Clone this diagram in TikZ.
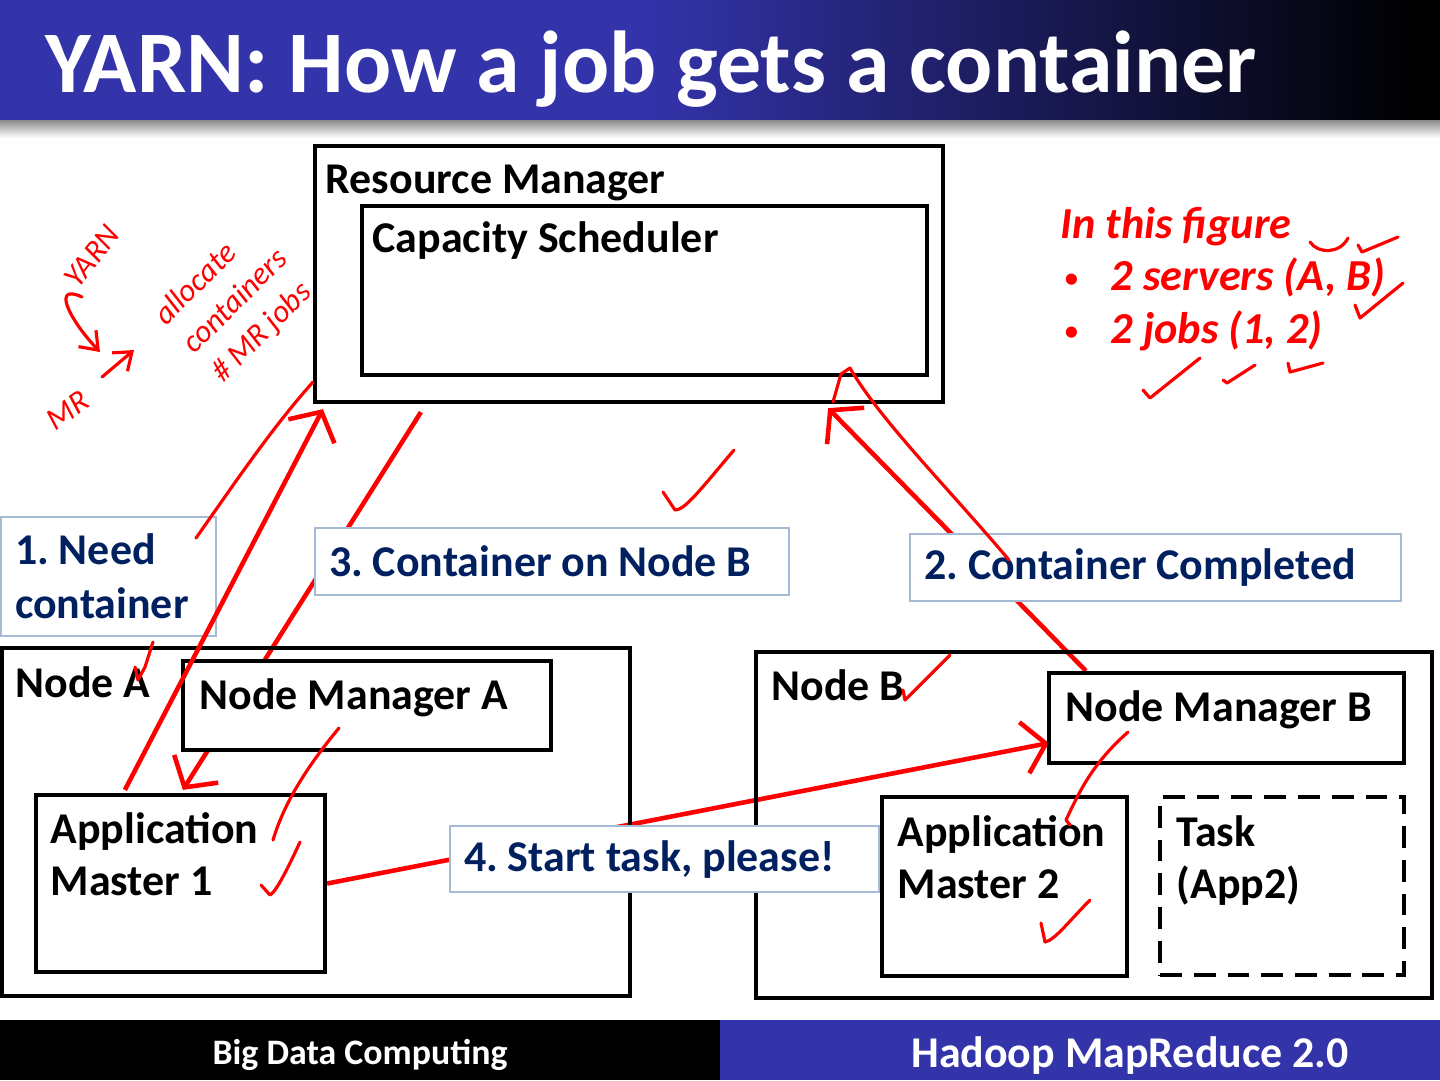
\documentclass[tikz,border=0pt]{standalone}
\usepackage{fontspec}
\setmainfont{Carlito}
\usetikzlibrary{arrows.meta,calc,fit}

\definecolor{slideblue}{RGB}{51,51,170}
\definecolor{msgnavy}{RGB}{0,32,96}
\definecolor{msgline}{RGB}{166,186,214}
\definecolor{inkred}{RGB}{255,0,0}

\newcommand{\titlefont}{\fontsize{25}{30}\selectfont\bfseries}
\newcommand{\boxfont}{\fontsize{12.5}{14.8}\selectfont\bfseries\frenchspacing}
\newcommand{\msgfont}{\fontsize{12.5}{15.4}\selectfont\bfseries\frenchspacing}
\newcommand{\notefont}{\fontsize{12.6}{15}\selectfont\bfseries\itshape}
\newcommand{\inkfont}{\fontsize{9}{11.5}\selectfont\itshape}
\newcommand{\smalldot}{{\normalfont\fontsize{9}{9}\selectfont\textbullet}}

\pgfdeclarelayer{background}
\pgfsetlayers{background,main}

\begin{document}
\begin{tikzpicture}[x=0.1mm, y=-0.1mm,
  blk/.style={draw, line width=1.2pt, inner sep=0pt},
  blkfill/.style={blk, fill=white},
  taskbox/.style={blk, dash pattern=on 6.2pt off 3.4pt},
  boxtext/.style={font=\boxfont, anchor=base west, inner sep=0pt, align=flush left},
  msgbox/.style={draw=msgline, line width=0.6pt, fill=white, text=msgnavy,
    font=\msgfont, inner xsep=1.4mm, align=flush left, anchor=north west},
  note/.style={text=inkred, font=\notefont, anchor=base west, inner sep=0pt},
  flow/.style={draw=inkred, line width=1.3pt, -{Straight Barb[length=2.2mm,width=5.2mm,line width=1.3pt]}},
  ink/.style={draw=inkred, line width=0.9pt, line cap=round, line join=round},
  inkword/.style={text=inkred, font=\inkfont, inner sep=0pt, align=flush left}]
\useasboundingbox (0,0) rectangle (1440,1080);

% title bar
\fill[slideblue] (0,0) rectangle (650,120);
\shade[left color=slideblue, right color=black] (650,0) rectangle (1420,120);
\fill[black] (1420,0) rectangle (1440,120);
\shade[top color=black!45, bottom color=white] (0,120) rectangle (1440,138);
\node[anchor=base west, inner sep=0pt, text=white, font=\titlefont] (title) at (45,92) {YARN: How a job gets a container};

% footer
\fill[black] (0,1020) rectangle (720,1080);
\fill[slideblue] (720,1020) rectangle (1440,1080);
\node[anchor=base, inner sep=0pt, text=white, font=\fontsize{10.2}{12}\selectfont\bfseries] (course) at (360,1064) {Big Data Computing};
\node[anchor=base, inner sep=0pt, text=white, font=\fontsize{12.5}{15}\selectfont\bfseries] (topic) at (1130,1067) {Hadoop MapReduce 2.0};

% resource manager
\node[blk, fit={(315,146) (943,402)}] (rm) {};
\node[blkfill, fit={(362,206) (927,375)}] (cs) {};
\node[boxtext] (rmtxt) at (325,193) {Resource Manager};
\node[boxtext] (cstxt) at (372,252) {Capacity Scheduler};

% node A
\node[blk, fit={(2,648) (630,996)}] (nodea) {};
\node[blkfill, fit={(183,661) (551,750)}] (nma) {};
\node[blkfill, fit={(36,795) (325,972)}] (am1) {};
\node[boxtext] (nodeatxt) at (15,697) {Node A};
\node[boxtext] (nmatxt) at (199,709) {Node Manager A};
\node[boxtext] (am1txt) at (50,895) {Application\\Master 1};

% node B
\node[blk, fit={(756,652) (1432,998)}] (nodeb) {};
\node[blkfill, fit={(1049,673) (1404,763)}] (nmb) {};
\node[blkfill, fit={(882,797) (1127,976)}] (am2) {};
\node[taskbox, fit={(1160,797) (1404,975)}] (task) {};
\node[boxtext] (nodebtxt) at (771,700) {Node B};
\node[boxtext] (nmbtxt) at (1065,721) {Node Manager B};
\node[boxtext] (am2txt) at (897,898) {Application\\Master 2};
\node[boxtext] (tasktxt) at (1176,898) {Task\\(App2)};

% messages
\node[msgbox, text width=18.7mm, minimum height=11.9mm] (msg1) at (0,516) {1. Need\\container};
\node[msgbox, text width=44.6mm, minimum height=6.7mm] (msg3) at (314,527) {3. Container on Node B};
\node[msgbox, text width=46.3mm, minimum height=6.7mm] (msg2) at (909,533) {2. Container Completed};
\node[msgbox, text width=40.1mm, minimum height=6.6mm] (msg4) at (449,825) {4. Start task, please!};

% arrows, behind the boxes
\begin{pgfonlayer}{background}
\draw[flow] ($(nmb.north west)+(39,0)$) -- ($(rm.south east)+(-117,4)$);
\draw[flow] ($(rm.south west)+(108,8)$) -- ($(am1.north west)+(149,-3)$);
\draw[flow] (am1.east) -- ($(nmb.west)+(2,25)$);
\end{pgfonlayer}
\draw[flow] ($(am1.north west)+(91,-3)$) -- ($(rm.south west)+(10,5)$);

% in this figure
\node[note] (fig) at (1060,238) {In this figure};
\node[note] (dot1) at (1063,288) {\smalldot};
\node[note] (srv) at (1110,290) {2 servers (A, B)};
\node[note] (dot2) at (1063,341) {\smalldot};
\node[note] (jobs) at (1110,343) {2 jobs (1, 2)};

% handwriting
\node[inkword, rotate=52] (yarnw) at (92,256) {YARN};
\node[inkword, rotate=35] (mrw) at (68,410) {MR};
\node[inkword, rotate=45] (allocw) at (236,302) {allocate\\containers\\\# MR jobs};
\draw[ink, -{Straight Barb[length=1.6mm,width=2.4mm]}] (82,297) .. controls (52,283) and (68,318) .. (100,352);
\draw[ink, -{Straight Barb[length=1.6mm,width=2.4mm]}] (102,377) -- (134,350);

% ticks and strokes
\draw[ink] (196,538) .. controls (230,490) and (270,430) .. (313,382);
\draw[ink] (153,642) -- (145,667) -- (138,680) -- (135,667);
\draw[ink] (339,728) .. controls (310,763) and (285,800) .. (273,840);
\draw[ink] (300,842) .. controls (288,868) and (276,892) .. (270,895) -- (261,885);
\draw[ink] (734,450) .. controls (700,490) and (685,510) .. (675,510) -- (663,492);
\draw[ink] (1009,560) .. controls (950,490) and (880,420) .. (850,368) -- (841,374) -- (833,402);
\draw[ink] (950,655) -- (905,700) -- (903,690);
\draw[ink] (1128,732) .. controls (1093,763) and (1080,790) .. (1066,820) -- (1070,825);
\draw[ink] (1090,900) .. controls (1070,920) and (1055,940) .. (1045,942) -- (1041,923);
\draw[ink] (1310,242) .. controls (1318,254) and (1340,254) .. (1348,238);
\draw[ink] (1358,245) -- (1362,252) -- (1398,237);
\draw[ink] (1355,305) -- (1360,318) -- (1403,283);
\draw[ink] (1143,390) -- (1150,398) -- (1200,358);
\draw[ink] (1223,380) -- (1227,383) -- (1255,365);
\draw[ink] (1288,363) -- (1290,372) -- (1323,363);
\end{tikzpicture}
\end{document}
